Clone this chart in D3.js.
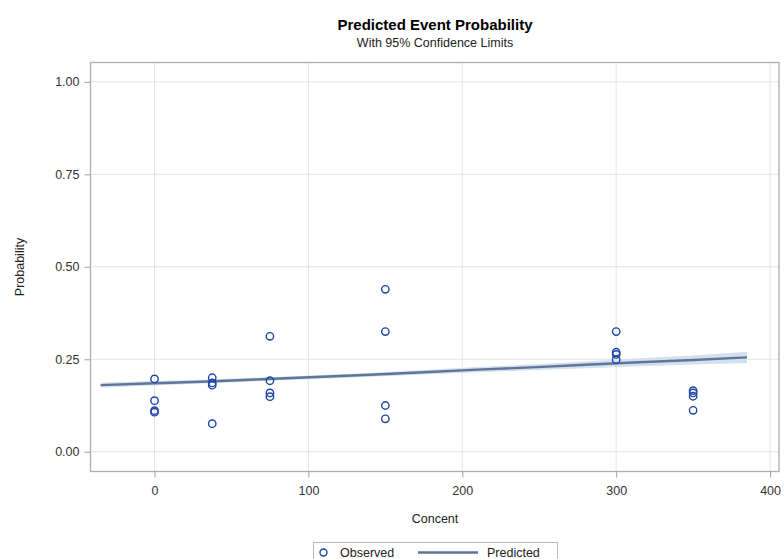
<!DOCTYPE html>
<html>
<head>
<meta charset="utf-8">
<script src="https://cdn.jsdelivr.net/npm/d3@7"></script>
<style>
  body { margin: 0; background: #fff; }
  text { font-family: "Liberation Sans", Arial, sans-serif; fill: #222; }
</style>
</head>
<body>
<div id="chart"></div>
<script>
const width = 784,
    height = 559;

// observed points: concentration and observed proportion
const obsConc = [0, 0, 0, 0,
    37.5, 37.5, 37.5, 37.5,
    75, 75, 75, 75,
    150, 150, 150, 150,
    300, 300, 300, 300,
    350, 350, 350, 350];
const obsProb = [0.197, 0.138, 0.111, 0.107,
    0.200, 0.186, 0.180, 0.076,
    0.312, 0.192, 0.159, 0.149,
    0.439, 0.325, 0.125, 0.089,
    0.325, 0.269, 0.263, 0.249,
    0.165, 0.159, 0.150, 0.112];

// predicted curve with 95% limits
const predConc = [-35, 0, 35, 70, 105, 140, 175, 210, 245, 280, 315, 350, 385];
const predProb = [0.180, 0.185, 0.190, 0.196, 0.202, 0.208, 0.215, 0.222, 0.228, 0.235, 0.242, 0.248, 0.255];
const lowerCL = [0.173, 0.179, 0.185, 0.191, 0.197, 0.203, 0.209, 0.215, 0.220, 0.226, 0.231, 0.236, 0.240];
const upperCL = [0.187, 0.191, 0.195, 0.201, 0.207, 0.213, 0.221, 0.229, 0.236, 0.244, 0.253, 0.260, 0.270];

const xTicks = [0, 100, 200, 300, 400];
const yTicks = [0, 0.25, 0.5, 0.75, 1.0];

const margin = {left: 90.5, right: 5, top: 62.5, bottom: 87.5};

const x = d3.scaleLinear()
    .domain([-41.6, 405.8])
    .range([margin.left, width - margin.right]);
const y = d3.scaleLinear()
    .domain([-0.0534, 1.0523])
    .range([height - margin.bottom, margin.top]);

const svg = d3.select("#chart").append("svg")
    .attr("width", width)
    .attr("height", height);

// titles
svg.append("text")
    .attr("x", 435).attr("y", 30)
    .attr("text-anchor", "middle")
    .style("font-size", "15px").style("font-weight", "bold")
    .style("fill", "#000")
    .text("Predicted Event Probability");
svg.append("text")
    .attr("x", 435).attr("y", 47)
    .attr("text-anchor", "middle")
    .style("font-size", "12.5px")
    .text("With 95% Confidence Limits");

// grid
const grid = svg.append("g");
grid.selectAll(".gx").data(xTicks).enter().append("line")
    .attr("x1", d => x(d)).attr("x2", d => x(d))
    .attr("y1", margin.top).attr("y2", height - margin.bottom)
    .attr("stroke", "#e4e4e4");
grid.selectAll(".gy").data(yTicks).enter().append("line")
    .attr("y1", d => y(d)).attr("y2", d => y(d))
    .attr("x1", margin.left).attr("x2", width - margin.right)
    .attr("stroke", "#e4e4e4");

// confidence band
const pred = predConc.map((c, i) => ({c: c, p: predProb[i], lo: lowerCL[i], hi: upperCL[i]}));

svg.append("path")
    .datum(pred)
    .attr("fill", "#d5e0ef")
    .attr("d", d3.area().x(d => x(d.c)).y0(d => y(d.lo)).y1(d => y(d.hi)));

svg.append("path")
    .datum(pred)
    .attr("fill", "none")
    .attr("stroke", "#5f7698")
    .attr("stroke-width", 2.4)
    .attr("d", d3.line().x(d => x(d.c)).y(d => y(d.p)));

// observed
svg.selectAll(".obs").data(obsConc).enter().append("circle")
    .attr("cx", d => x(d))
    .attr("cy", (d, i) => y(obsProb[i]))
    .attr("r", 3.7)
    .attr("fill", "none")
    .attr("stroke", "#1f44a8")
    .attr("stroke-width", 1.4);

// axes
const xAxis = svg.append("g")
    .attr("transform", `translate(0,${height - margin.bottom})`)
    .call(d3.axisBottom(x).tickValues(xTicks).tickSize(6).tickPadding(9).tickFormat(d3.format("d")));
const yAxis = svg.append("g")
    .attr("transform", `translate(${margin.left},0)`)
    .call(d3.axisLeft(y).tickValues(yTicks).tickSize(6).tickPadding(5).tickFormat(d3.format(".2f")));
[xAxis, yAxis].forEach(a => {
    a.select(".domain").remove();
    a.selectAll("line").attr("stroke", "#9aa2aa");
    a.selectAll("text").style("font-size", "12.5px").style("fill", "#333")
        .style("font-family", "'Liberation Sans', Arial, sans-serif");
});

// frame
svg.append("rect")
    .attr("x", margin.left).attr("y", margin.top)
    .attr("width", width - margin.right - margin.left)
    .attr("height", height - margin.bottom - margin.top)
    .attr("fill", "none")
    .attr("stroke", "#a9afb4")
    .attr("stroke-width", 1.3);

// axis labels
svg.append("text")
    .attr("x", 435).attr("y", 523)
    .attr("text-anchor", "middle")
    .style("font-size", "12.5px")
    .text("Concent");
svg.append("text")
    .attr("transform", "translate(24,267) rotate(-90)")
    .attr("text-anchor", "middle")
    .style("font-size", "12.5px")
    .text("Probability");

// legend
const lg = svg.append("g");
lg.append("rect")
    .attr("x", 313.5).attr("y", 542.5)
    .attr("width", 244).attr("height", 20)
    .attr("fill", "none").attr("stroke", "#b5bbc1");
lg.append("circle")
    .attr("cx", 323.5).attr("cy", 552.5).attr("r", 3.5)
    .attr("fill", "none").attr("stroke", "#1f44a8").attr("stroke-width", 1.4);
lg.append("text")
    .attr("x", 340).attr("y", 557)
    .style("font-size", "12.5px")
    .text("Observed");
lg.append("line")
    .attr("x1", 418).attr("x2", 478)
    .attr("y1", 552.5).attr("y2", 552.5)
    .attr("stroke", "#5f7698").attr("stroke-width", 2.4);
lg.append("text")
    .attr("x", 487).attr("y", 557)
    .style("font-size", "12.5px")
    .text("Predicted");
</script>
</body>
</html>
